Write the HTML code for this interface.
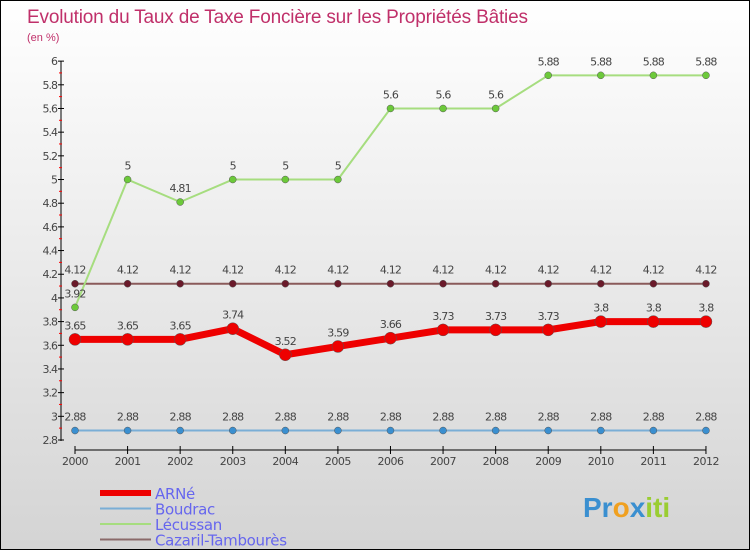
<!DOCTYPE html>
<html><head><meta charset="utf-8"><style>
body{margin:0}
#c{width:750px;height:550px;position:relative;box-sizing:border-box;border:1px solid #000;background:linear-gradient(#fff,#d4d4d4);font-family:"DejaVu Sans","Liberation Sans",sans-serif;overflow:hidden}
</style></head><body>
<div id="c">
<svg id="s" width="750" height="550" style="position:absolute;left:-1px;top:-1px">
<text x="27" y="23" font-size="19" fill="#c0306a" font-family="Liberation Sans, sans-serif" textLength="501">Evolution du Taux de Taxe Foncière sur les Propriétés Bâties</text>
<text x="27" y="41" font-size="11" fill="#c0306a" font-family="Liberation Sans, sans-serif">(en %)</text>
</svg>
</div>
<script>
const years=[2000,2001,2002,2003,2004,2005,2006,2007,2008,2009,2010,2011,2012];
const arne=[3.65,3.65,3.65,3.74,3.52,3.59,3.66,3.73,3.73,3.73,3.8,3.8,3.8];
const boudrac=[2.88,2.88,2.88,2.88,2.88,2.88,2.88,2.88,2.88,2.88,2.88,2.88,2.88];
const lecussan=[3.92,5,4.81,5,5,5,5.6,5.6,5.6,5.88,5.88,5.88,5.88];
const cazaril=[4.12,4.12,4.12,4.12,4.12,4.12,4.12,4.12,4.12,4.12,4.12,4.12,4.12];
const yTicks=[2.8,3,3.2,3.4,3.6,3.8,4,4.2,4.4,4.6,4.8,5,5.2,5.4,5.6,5.8,6];
const ns="http://www.w3.org/2000/svg",s=document.getElementById('s');
const X=i=>75+i*52.58, Y=v=>440-(v-2.8)*118.4;
function el(t,a,p){const e=document.createElementNS(ns,t);for(const k in a)e.setAttribute(k,a[k]);(p||s).appendChild(e);return e;}
const ax=el('g',{});


el('line',{x1:61,y1:61,x2:61,y2:441,stroke:'#000'},ax);
el('line',{x1:75,y1:450,x2:706,y2:450,stroke:'#000'},ax);
yTicks.forEach((v,k)=>{const y=Y(v);
el('line',{x1:58,y1:y,x2:64,y2:y,stroke:'#000'},ax);
if(k>0)el('line',{x1:59,y1:y+11.8,x2:62,y2:y+11.8,stroke:'red'},ax);
const t=el('text',{x:57,y:y+4,'font-size':11,'text-anchor':'end',fill:'#444','letter-spacing':'-1'},ax);t.textContent=String(v);

});
years.forEach((yr,i)=>{const x=X(i);
el('line',{x1:x,y1:446,x2:x,y2:454,stroke:'#000'},ax);
const t=el('text',{x:x,y:465,'font-size':11,'text-anchor':'middle',fill:'#444','letter-spacing':'-0.5'},ax);t.textContent=yr;

});
function series(name,vals,col,w,r,dot){
const g=el('g',{});


el('polyline',{points:vals.map((v,i)=>X(i)+','+Y(v)).join(' '),fill:'none',stroke:col,'stroke-width':w,'stroke-linejoin':'round'},g);
vals.forEach((v,i)=>{const c=el('circle',{cx:X(i),cy:Y(v),r:r,fill:dot,stroke:'#555','stroke-width':0.5},g);


const t=el('text',{x:X(i),y:Y(v)-10,'font-size':11,'text-anchor':'middle',fill:'#444','letter-spacing':'-0.8'},g);t.textContent=String(v);

});}
series('boudrac',boudrac,'#7aaed6',2,3.5,'#3a8fd0');
series('cazaril',cazaril,'#8a5a5a',2,3.5,'#6a1a2a');
series('lecussan',lecussan,'#a6dd7f',2,3.5,'#6cc93a');
series('arne',arne,'#ee0000',7,6,'#ee0000');
const leg=[['ARNé','#ee0000',6],['Boudrac','#7aaed6',2],['Lécussan','#a6dd7f',2],['Cazaril-Tambourès','#8a6a6a',2]];
leg.forEach((l,i)=>{const y=493+i*15.5;const g=el('g',{});


el('line',{x1:100,y1:y,x2:151,y2:y,stroke:l[1],'stroke-width':l[2]},g);
const t=el('text',{x:155,y:y+6,'font-size':15,fill:'#6666ee','letter-spacing':'-0.3'},g);t.textContent=l[0];});
const lg=el('text',{x:583,y:517,'font-size':28,'font-weight':'bold','font-family':'Liberation Sans,sans-serif'});


[['Pr','#3a8fd0'],['o','#f0a020'],['x','#3a8fd0'],['iti','#9acd32']].forEach(p=>{const ts=el('tspan',{fill:p[1]},lg);ts.textContent=p[0];});
</script>
</body></html>
